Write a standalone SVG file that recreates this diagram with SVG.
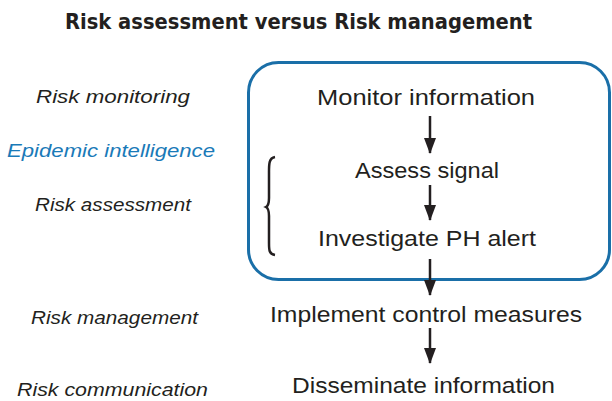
<svg xmlns="http://www.w3.org/2000/svg" width="612" height="401" viewBox="0 0 612 401">
<defs>
<marker id="ah" viewBox="0 0 16 12" refX="15" refY="6" markerWidth="16" markerHeight="12" markerUnits="userSpaceOnUse" orient="auto">
<path d="M0,0 L16,6 L0,12 Z" fill="#231f20"/>
</marker>
<style>
.t{font-family:"Liberation Sans",Arial,sans-serif;font-size:22px;fill:#231f20;text-anchor:middle}
.l{font-family:"Liberation Sans",Arial,sans-serif;font-size:18px;font-style:italic;fill:#231f20;text-anchor:middle}
.title{font-family:"DejaVu Sans Condensed","Liberation Sans",sans-serif;font-size:22px;font-weight:bold;fill:#231f20;text-anchor:middle}
.c{stroke:#231f20;stroke-width:2.5;fill:none}
</style>
</defs>
<rect width="612" height="401" fill="#ffffff"/>
<text class="title" x="298.5" y="29" textLength="467" lengthAdjust="spacingAndGlyphs">Risk assessment versus Risk management</text>
<g id="box"><rect x="248.5" y="62.5" width="361" height="217" rx="30" fill="none" stroke="#1a6fa8" stroke-width="3"/></g>
<g id="labels">
<text class="l" x="113" y="103" textLength="154" lengthAdjust="spacingAndGlyphs">Risk monitoring</text>
<text class="l" x="111" y="157" textLength="208" lengthAdjust="spacingAndGlyphs" style="fill:#1a7ab8">Epidemic intelligence</text>
<text class="l" x="113" y="211" textLength="156" lengthAdjust="spacingAndGlyphs">Risk assessment</text>
<text class="l" x="114.5" y="324" textLength="167" lengthAdjust="spacingAndGlyphs">Risk management</text>
<text class="l" x="112.5" y="396" textLength="191" lengthAdjust="spacingAndGlyphs">Risk communication</text>
</g>
<g id="n1"><text class="t" x="426" y="105" textLength="218" lengthAdjust="spacingAndGlyphs">Monitor information</text></g>
<g id="n2"><text class="t" x="427" y="178" textLength="144" lengthAdjust="spacingAndGlyphs">Assess signal</text></g>
<g id="n3"><text class="t" x="427" y="246" textLength="218" lengthAdjust="spacingAndGlyphs">Investigate PH alert</text></g>
<g id="n4"><text class="t" x="426" y="322" textLength="312" lengthAdjust="spacingAndGlyphs">Implement control measures</text></g>
<g id="n5"><text class="t" x="423.5" y="393" textLength="263" lengthAdjust="spacingAndGlyphs">Disseminate information</text></g>
<g id="brace"><path class="c" d="M275,157 C269,158 269,164 269,172 L269,198 C269,203 268,206 266,207 C268,208 269,211 269,216 L269,243 C269,250 269,254 275,255" stroke-width="1.6"/></g>
<g id="connectors">
<line class="c" x1="430" y1="116" x2="430" y2="153" marker-end="url(#ah)"/>
<line class="c" x1="430" y1="185" x2="430" y2="220" marker-end="url(#ah)"/>
<line class="c" x1="430" y1="259" x2="430" y2="295" marker-end="url(#ah)"/>
<line class="c" x1="430" y1="328" x2="430" y2="363" marker-end="url(#ah)"/>
</g>
</svg>
